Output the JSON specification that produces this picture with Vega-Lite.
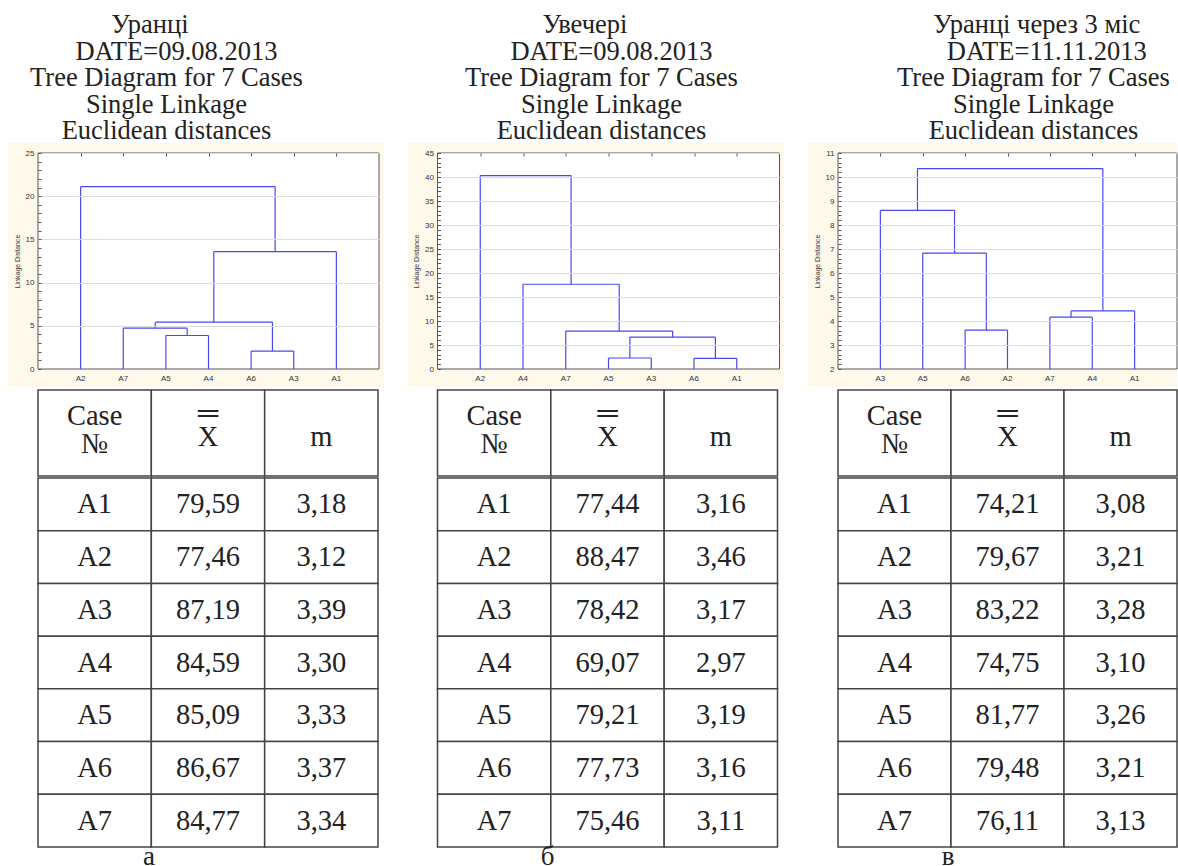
{
  "$schema": "https://vega.github.io/schema/vega-lite/v6.json",
  "padding": {"left": 7, "top": 12, "right": 0, "bottom": 0},
  "config": {
    "view": {"stroke": null},
    "font": "Liberation Serif",
    "locale": {"number": {"decimal": ",", "thousands": " ", "grouping": [3], "currency": ["", ""]}},
    "title": {"font": "Liberation Serif", "fontWeight": "normal", "color": "#222222"}
  },
  "datasets": {
    "merges": [
      {"panel": "a", "xl": 5, "xr": 6, "hl": 0, "hr": 0, "h": 2.08},
      {"panel": "a", "xl": 3, "xr": 4, "hl": 0, "hr": 0, "h": 3.88},
      {"panel": "a", "xl": 2, "xr": 3.5, "hl": 0, "hr": 3.88, "h": 4.73},
      {"panel": "a", "xl": 2.75, "xr": 5.5, "hl": 4.73, "hr": 2.08, "h": 5.42},
      {"panel": "a", "xl": 4.125, "xr": 7, "hl": 5.42, "hr": 0, "h": 13.58},
      {"panel": "a", "xl": 1, "xr": 5.5625, "hl": 0, "hr": 13.58, "h": 21.1},
      {"panel": "b", "xl": 4, "xr": 5, "hl": 0, "hr": 0, "h": 2.29},
      {"panel": "b", "xl": 6, "xr": 7, "hl": 0, "hr": 0, "h": 2.22},
      {"panel": "b", "xl": 4.5, "xr": 6.5, "hl": 2.29, "hr": 2.22, "h": 6.65},
      {"panel": "b", "xl": 3, "xr": 5.5, "hl": 0, "hr": 6.65, "h": 7.9},
      {"panel": "b", "xl": 2, "xr": 4.25, "hl": 0, "hr": 7.9, "h": 17.66},
      {"panel": "b", "xl": 1, "xr": 3.125, "hl": 0, "hr": 17.66, "h": 40.3},
      {"panel": "c", "xl": 3, "xr": 4, "hl": 0, "hr": 0, "h": 3.62},
      {"panel": "c", "xl": 5, "xr": 6, "hl": 0, "hr": 0, "h": 4.16},
      {"panel": "c", "xl": 5.5, "xr": 7, "hl": 4.16, "hr": 0, "h": 4.42},
      {"panel": "c", "xl": 2, "xr": 3.5, "hl": 0, "hr": 3.62, "h": 6.83},
      {"panel": "c", "xl": 1, "xr": 2.75, "hl": 0, "hr": 6.83, "h": 8.61},
      {"panel": "c", "xl": 1.875, "xr": 6.25, "hl": 8.61, "hr": 4.42, "h": 10.35}
    ],
    "leaves": [
      {"panel": "a", "leaf": "A2", "pos": 1}, {"panel": "a", "leaf": "A7", "pos": 2},
      {"panel": "a", "leaf": "A5", "pos": 3}, {"panel": "a", "leaf": "A4", "pos": 4},
      {"panel": "a", "leaf": "A6", "pos": 5}, {"panel": "a", "leaf": "A3", "pos": 6},
      {"panel": "a", "leaf": "A1", "pos": 7},
      {"panel": "b", "leaf": "A2", "pos": 1}, {"panel": "b", "leaf": "A4", "pos": 2},
      {"panel": "b", "leaf": "A7", "pos": 3}, {"panel": "b", "leaf": "A5", "pos": 4},
      {"panel": "b", "leaf": "A3", "pos": 5}, {"panel": "b", "leaf": "A6", "pos": 6},
      {"panel": "b", "leaf": "A1", "pos": 7},
      {"panel": "c", "leaf": "A3", "pos": 1}, {"panel": "c", "leaf": "A5", "pos": 2},
      {"panel": "c", "leaf": "A6", "pos": 3}, {"panel": "c", "leaf": "A2", "pos": 4},
      {"panel": "c", "leaf": "A7", "pos": 5}, {"panel": "c", "leaf": "A4", "pos": 6},
      {"panel": "c", "leaf": "A1", "pos": 7}
    ],
    "cases": [
      {"panel": "a", "case": "A1", "xbar": 79.59, "m": 3.18},
      {"panel": "a", "case": "A2", "xbar": 77.46, "m": 3.12},
      {"panel": "a", "case": "A3", "xbar": 87.19, "m": 3.39},
      {"panel": "a", "case": "A4", "xbar": 84.59, "m": 3.30},
      {"panel": "a", "case": "A5", "xbar": 85.09, "m": 3.33},
      {"panel": "a", "case": "A6", "xbar": 86.67, "m": 3.37},
      {"panel": "a", "case": "A7", "xbar": 84.77, "m": 3.34},
      {"panel": "b", "case": "A1", "xbar": 77.44, "m": 3.16},
      {"panel": "b", "case": "A2", "xbar": 88.47, "m": 3.46},
      {"panel": "b", "case": "A3", "xbar": 78.42, "m": 3.17},
      {"panel": "b", "case": "A4", "xbar": 69.07, "m": 2.97},
      {"panel": "b", "case": "A5", "xbar": 79.21, "m": 3.19},
      {"panel": "b", "case": "A6", "xbar": 77.73, "m": 3.16},
      {"panel": "b", "case": "A7", "xbar": 75.46, "m": 3.11},
      {"panel": "c", "case": "A1", "xbar": 74.21, "m": 3.08},
      {"panel": "c", "case": "A2", "xbar": 79.67, "m": 3.21},
      {"panel": "c", "case": "A3", "xbar": 83.22, "m": 3.28},
      {"panel": "c", "case": "A4", "xbar": 74.75, "m": 3.10},
      {"panel": "c", "case": "A5", "xbar": 81.77, "m": 3.26},
      {"panel": "c", "case": "A6", "xbar": 79.48, "m": 3.21},
      {"panel": "c", "case": "A7", "xbar": 76.11, "m": 3.13}
    ],
    "header": [
      {"col": "case", "label": ["Case", "№"]},
      {"col": "xbar", "label": "X", "accent": "═"},
      {"col": "m", "label": "m"}
    ]
  },
  "spacing": 22.5,
  "hconcat": [
    {
      "spacing": 2,
      "vconcat": [
        {
          "width": 341,
          "height": 216,
          "title": {
            "text": ["Уранці\u00a0\u00a0\u00a0\u00a0\u00a0\u200b", "\u200b\u00a0\u00a0\u00a0DATE=09.08.2013", "Tree Diagram for 7 Cases", "Single Linkage", "Euclidean distances"],
            "frame": "group", "anchor": "middle", "dx": -42, "offset": -29,
            "fontSize": 26.5, "lineHeight": 26.6, "baseline": "bottom"
          },
          "layer": [
            {
              "data": {"values": [{}]},
              "mark": {"type": "rect", "fill": "#fff9ec"},
              "encoding": {
                "x": {"datum": -0.704, "type": "quantitative", "scale": {"domain": [0, 8], "nice": false, "zero": false},
                      "axis": {"orient": "top", "values": [1, 2, 3, 4, 5, 6, 7], "tickCount": 1000, "labels": false, "domain": false, "grid": false, "title": null,
                               "tickSize": -3, "tickColor": "#555555", "zindex": 1}},
                "x2": {"datum": 8.117},
                "y": {"datum": -2.083, "type": "quantitative", "scale": {"domain": [0, 25], "nice": false, "zero": false},
                      "axis": {
                        "title": "Linkage Distance", "zindex": 1, "tickCount": 1000, "format": "d",
                        "values": [0,1,2,3,4,5,6,7,8,9,10,11,12,13,14,15,16,17,18,19,20,21,22,23,24,25],
                        "labelExpr": "datum.value % 5 === 0 ? datum.label : ''", "labelOverlap": false,
                        "grid": true, "gridColor": "#dddddd",
                        "gridOpacity": {"condition": {"test": "datum.value % 5 === 0 && datum.value > 0", "value": 1}, "value": 0},
                        "domain": false, "tickSize": -3, "tickColor": "#555555",
                        "labelFont": "Liberation Sans", "labelFontSize": 8, "labelColor": "#333333", "labelPadding": 7,
                        "titleFont": "Liberation Sans", "titleFontSize": 7, "titleFontWeight": "normal", "titleColor": "#333333", "titlePadding": 5
                      }},
                "y2": {"datum": 26.157}
              }
            },
            {
              "data": {"values": [{}]},
              "mark": {"type": "rect", "fill": "#ffffff", "stroke": "#555555", "strokeWidth": 1},
              "encoding": {
                "x": {"datum": 0, "type": "quantitative"},
                "x2": {"datum": 8},
                "y": {"datum": 0, "type": "quantitative"},
                "y2": {"datum": 25}
              }
            },
            {
              "data": {"name": "merges"},
              "transform": [{"filter": "datum.panel === 'a'"}],
              "layer": [
                {
                  "mark": {"type": "rule", "color": "#4848f0", "strokeWidth": 1.2, "clip": true},
                  "encoding": {"x": {"field": "xl", "type": "quantitative"}, "x2": {"field": "xr"}, "y": {"field": "h", "type": "quantitative"}}
                },
                {
                  "mark": {"type": "rule", "color": "#4848f0", "strokeWidth": 1.2, "clip": true},
                  "encoding": {"x": {"field": "xl", "type": "quantitative"}, "y": {"field": "hl", "type": "quantitative"}, "y2": {"field": "h"}}
                },
                {
                  "mark": {"type": "rule", "color": "#4848f0", "strokeWidth": 1.2, "clip": true},
                  "encoding": {"x": {"field": "xr", "type": "quantitative"}, "y": {"field": "hr", "type": "quantitative"}, "y2": {"field": "h"}}
                }
              ]
            },
            {
              "data": {"name": "leaves"},
              "transform": [{"filter": "datum.panel === 'a'"}],
              "mark": {"type": "text", "font": "Liberation Sans", "fontSize": 8, "color": "#333333", "baseline": "top", "dy": 6},
              "encoding": {
                "x": {"field": "pos", "type": "quantitative"},
                "y": {"datum": 0, "type": "quantitative"},
                "text": {"field": "leaf"}
              }
            }
          ]
        },
        {
          "spacing": 0,
          "vconcat": [
            {
              "width": 340,
              "height": 86,
              "data": {"name": "header"},
              "encoding": {
                "x": {"field": "col", "type": "nominal", "axis": null,
                      "scale": {"domain": ["case", "xbar", "m"], "paddingInner": 0, "paddingOuter": 0}}
              },
              "layer": [
                {"mark": {"type": "rect", "fill": "#ffffff", "stroke": "#444444", "strokeWidth": 1.5}},
                {"transform": [{"filter": "datum.col === 'case'"}],
                 "mark": {"type": "text", "fontSize": 28.5, "color": "#222222", "lineHeight": 28, "baseline": "middle", "dy": -17},
                 "encoding": {"text": {"field": "label"}}},
                {"transform": [{"filter": "datum.col !== 'case'"}],
                 "mark": {"type": "text", "fontSize": 28.5, "color": "#222222", "baseline": "middle", "dy": 3.5},
                 "encoding": {"text": {"field": "label"}}},
                {"transform": [{"filter": "isValid(datum.accent)"}],
                 "mark": {"type": "text", "fontSize": 28.5, "color": "#222222", "baseline": "middle", "dy": -20.5},
                 "encoding": {"text": {"field": "accent"}}}
              ]
            },
            {
              "width": 340,
              "height": 369,
              "data": {"name": "cases"},
              "transform": [{"filter": "datum.panel === 'a'"}],
              "title": {"text": "а", "orient": "bottom", "anchor": "start", "align": "center", "frame": "group", "dx": 111, "offset": -4, "fontSize": 27},
              "encoding": {
                "y": {"field": "case", "type": "nominal", "axis": null, "scale": {"paddingInner": 0, "paddingOuter": 0}}
              },
              "layer": [
                {
                  "transform": [{"fold": ["case", "xbar", "m"], "as": ["col", "val"]}],
                  "mark": {"type": "rect", "fill": "#ffffff", "stroke": "#444444", "strokeWidth": 1.5},
                  "encoding": {
                    "x": {"field": "col", "type": "nominal", "axis": null,
                          "scale": {"domain": ["case", "xbar", "m"], "paddingInner": 0, "paddingOuter": 0}}
                  }
                },
                {
                  "mark": {"type": "text", "fontSize": 28.5, "color": "#222222", "baseline": "middle"},
                  "encoding": {"x": {"datum": "case", "type": "nominal"}, "text": {"field": "case"}}
                },
                {
                  "mark": {"type": "text", "fontSize": 28.5, "color": "#222222", "baseline": "middle"},
                  "encoding": {"x": {"datum": "xbar", "type": "nominal"}, "text": {"field": "xbar", "type": "quantitative", "format": ".2f"}}
                },
                {
                  "mark": {"type": "text", "fontSize": 28.5, "color": "#222222", "baseline": "middle"},
                  "encoding": {"x": {"datum": "m", "type": "nominal"}, "text": {"field": "m", "type": "quantitative", "format": ".2f"}}
                }
              ]
            }
          ]
        }
      ]
    },
    {
      "spacing": 2,
      "vconcat": [
        {
          "width": 342,
          "height": 216,
          "title": {
            "text": ["Увечері\u00a0\u00a0\u00a0\u00a0\u00a0\u200b", "\u200b\u00a0\u00a0\u00a0DATE=09.08.2013", "Tree Diagram for 7 Cases", "Single Linkage", "Euclidean distances"],
            "frame": "group", "anchor": "middle", "dx": -7, "offset": -29,
            "fontSize": 26.5, "lineHeight": 26.6, "baseline": "bottom"
          },
          "layer": [
            {
              "data": {"values": [{}]},
              "mark": {"type": "rect", "fill": "#fff9ec"},
              "encoding": {
                "x": {"datum": -0.702, "type": "quantitative", "scale": {"domain": [0, 8], "nice": false, "zero": false},
                      "axis": {"orient": "top", "values": [1, 2, 3, 4, 5, 6, 7], "tickCount": 1000, "labels": false, "domain": false, "grid": false, "title": null,
                               "tickSize": -3, "tickColor": "#555555", "zindex": 1}},
                "x2": {"datum": 8.094},
                "y": {"datum": -3.75, "type": "quantitative", "scale": {"domain": [0, 45], "nice": false, "zero": false},
                      "axis": {
                        "title": "Linkage Distance", "zindex": 1, "tickCount": 1000, "format": "d",
                        "values": [0,1,2,3,4,5,6,7,8,9,10,11,12,13,14,15,16,17,18,19,20,21,22,23,24,25,26,27,28,29,30,31,32,33,34,35,36,37,38,39,40,41,42,43,44,45],
                        "labelExpr": "datum.value % 5 === 0 ? datum.label : ''", "labelOverlap": false,
                        "grid": true, "gridColor": "#dddddd",
                        "gridOpacity": {"condition": {"test": "datum.value % 5 === 0 && datum.value > 0", "value": 1}, "value": 0},
                        "domain": false, "tickSize": -3, "tickColor": "#555555",
                        "labelFont": "Liberation Sans", "labelFontSize": 8, "labelColor": "#333333", "labelPadding": 7,
                        "titleFont": "Liberation Sans", "titleFontSize": 7, "titleFontWeight": "normal", "titleColor": "#333333", "titlePadding": 5
                      }},
                "y2": {"datum": 47.083}
              }
            },
            {
              "data": {"values": [{}]},
              "mark": {"type": "rect", "fill": "#ffffff", "stroke": "#555555", "strokeWidth": 1},
              "encoding": {
                "x": {"datum": 0, "type": "quantitative"},
                "x2": {"datum": 8},
                "y": {"datum": 0, "type": "quantitative"},
                "y2": {"datum": 45}
              }
            },
            {
              "data": {"name": "merges"},
              "transform": [{"filter": "datum.panel === 'b'"}],
              "layer": [
                {
                  "mark": {"type": "rule", "color": "#4848f0", "strokeWidth": 1.2, "clip": true},
                  "encoding": {"x": {"field": "xl", "type": "quantitative"}, "x2": {"field": "xr"}, "y": {"field": "h", "type": "quantitative"}}
                },
                {
                  "mark": {"type": "rule", "color": "#4848f0", "strokeWidth": 1.2, "clip": true},
                  "encoding": {"x": {"field": "xl", "type": "quantitative"}, "y": {"field": "hl", "type": "quantitative"}, "y2": {"field": "h"}}
                },
                {
                  "mark": {"type": "rule", "color": "#4848f0", "strokeWidth": 1.2, "clip": true},
                  "encoding": {"x": {"field": "xr", "type": "quantitative"}, "y": {"field": "hr", "type": "quantitative"}, "y2": {"field": "h"}}
                }
              ]
            },
            {
              "data": {"name": "leaves"},
              "transform": [{"filter": "datum.panel === 'b'"}],
              "mark": {"type": "text", "font": "Liberation Sans", "fontSize": 8, "color": "#333333", "baseline": "top", "dy": 6},
              "encoding": {
                "x": {"field": "pos", "type": "quantitative"},
                "y": {"datum": 0, "type": "quantitative"},
                "text": {"field": "leaf"}
              }
            }
          ]
        },
        {
          "spacing": 0,
          "vconcat": [
            {
              "width": 340,
              "height": 86,
              "data": {"name": "header"},
              "encoding": {
                "x": {"field": "col", "type": "nominal", "axis": null,
                      "scale": {"domain": ["case", "xbar", "m"], "paddingInner": 0, "paddingOuter": 0}}
              },
              "layer": [
                {"mark": {"type": "rect", "fill": "#ffffff", "stroke": "#444444", "strokeWidth": 1.5}},
                {"transform": [{"filter": "datum.col === 'case'"}],
                 "mark": {"type": "text", "fontSize": 28.5, "color": "#222222", "lineHeight": 28, "baseline": "middle", "dy": -17},
                 "encoding": {"text": {"field": "label"}}},
                {"transform": [{"filter": "datum.col !== 'case'"}],
                 "mark": {"type": "text", "fontSize": 28.5, "color": "#222222", "baseline": "middle", "dy": 3.5},
                 "encoding": {"text": {"field": "label"}}},
                {"transform": [{"filter": "isValid(datum.accent)"}],
                 "mark": {"type": "text", "fontSize": 28.5, "color": "#222222", "baseline": "middle", "dy": -20.5},
                 "encoding": {"text": {"field": "accent"}}}
              ]
            },
            {
              "width": 340,
              "height": 369,
              "data": {"name": "cases"},
              "transform": [{"filter": "datum.panel === 'b'"}],
              "title": {"text": "б", "orient": "bottom", "anchor": "start", "align": "center", "frame": "group", "dx": 110, "offset": -4, "fontSize": 27},
              "encoding": {
                "y": {"field": "case", "type": "nominal", "axis": null, "scale": {"paddingInner": 0, "paddingOuter": 0}}
              },
              "layer": [
                {
                  "transform": [{"fold": ["case", "xbar", "m"], "as": ["col", "val"]}],
                  "mark": {"type": "rect", "fill": "#ffffff", "stroke": "#444444", "strokeWidth": 1.5},
                  "encoding": {
                    "x": {"field": "col", "type": "nominal", "axis": null,
                          "scale": {"domain": ["case", "xbar", "m"], "paddingInner": 0, "paddingOuter": 0}}
                  }
                },
                {
                  "mark": {"type": "text", "fontSize": 28.5, "color": "#222222", "baseline": "middle"},
                  "encoding": {"x": {"datum": "case", "type": "nominal"}, "text": {"field": "case"}}
                },
                {
                  "mark": {"type": "text", "fontSize": 28.5, "color": "#222222", "baseline": "middle"},
                  "encoding": {"x": {"datum": "xbar", "type": "nominal"}, "text": {"field": "xbar", "type": "quantitative", "format": ".2f"}}
                },
                {
                  "mark": {"type": "text", "fontSize": 28.5, "color": "#222222", "baseline": "middle"},
                  "encoding": {"x": {"datum": "m", "type": "nominal"}, "text": {"field": "m", "type": "quantitative", "format": ".2f"}}
                }
              ]
            }
          ]
        }
      ]
    },
    {
      "spacing": 2,
      "vconcat": [
        {
          "width": 339,
          "height": 216,
          "title": {
            "text": ["\u200b\u00a0Уранці через 3 міс", "\u200b\u00a0\u00a0\u00a0\u00a0DATE=11.11.2013", "Tree Diagram for 7 Cases", "Single Linkage", "Euclidean distances"],
            "frame": "group", "anchor": "middle", "dx": 26, "offset": -29,
            "fontSize": 26.5, "lineHeight": 26.6, "baseline": "bottom"
          },
          "layer": [
            {
              "data": {"values": [{}]},
              "mark": {"type": "rect", "fill": "#fff9ec"},
              "encoding": {
                "x": {"datum": -0.708, "type": "quantitative", "scale": {"domain": [0, 8], "nice": false, "zero": false},
                      "axis": {"orient": "top", "values": [1, 2, 3, 4, 5, 6, 7], "tickCount": 1000, "labels": false, "domain": false, "grid": false, "title": null,
                               "tickSize": -3, "tickColor": "#555555", "zindex": 1}},
                "x2": {"datum": 8},
                "y": {"datum": 1.25, "type": "quantitative", "scale": {"domain": [2, 11], "nice": false, "zero": false},
                      "axis": {
                        "title": "Linkage Distance", "zindex": 1, "tickCount": 1000, "tickMinStep": 0.1, "format": ".0f",
                        "values": [2,2.2,2.4,2.6,2.8,3,3.2,3.4,3.6,3.8,4,4.2,4.4,4.6,4.8,5,5.2,5.4,5.6,5.8,6,6.2,6.4,6.6,6.8,7,7.2,7.4,7.6,7.8,8,8.2,8.4,8.6,8.8,9,9.2,9.4,9.6,9.8,10,10.2,10.4,10.6,10.8,11],
                        "labelExpr": "abs(datum.value - round(datum.value)) < 0.001 ? datum.label : ''", "labelOverlap": false,
                        "grid": true, "gridColor": "#dddddd",
                        "gridOpacity": {"condition": {"test": "abs(datum.value - round(datum.value)) < 0.001 && datum.value > 2", "value": 1}, "value": 0},
                        "domain": false, "tickSize": -3, "tickColor": "#555555",
                        "labelFont": "Liberation Sans", "labelFontSize": 8, "labelColor": "#333333", "labelPadding": 7,
                        "titleFont": "Liberation Sans", "titleFontSize": 7, "titleFontWeight": "normal", "titleColor": "#333333", "titlePadding": 5
                      }},
                "y2": {"datum": 11.417}
              }
            },
            {
              "data": {"values": [{}]},
              "mark": {"type": "rect", "fill": "#ffffff", "stroke": "#555555", "strokeWidth": 1},
              "encoding": {
                "x": {"datum": 0, "type": "quantitative"},
                "x2": {"datum": 8},
                "y": {"datum": 2, "type": "quantitative"},
                "y2": {"datum": 11}
              }
            },
            {
              "data": {"name": "merges"},
              "transform": [{"filter": "datum.panel === 'c'"}],
              "layer": [
                {
                  "mark": {"type": "rule", "color": "#4848f0", "strokeWidth": 1.2, "clip": true},
                  "encoding": {"x": {"field": "xl", "type": "quantitative"}, "x2": {"field": "xr"}, "y": {"field": "h", "type": "quantitative"}}
                },
                {
                  "mark": {"type": "rule", "color": "#4848f0", "strokeWidth": 1.2, "clip": true},
                  "encoding": {"x": {"field": "xl", "type": "quantitative"}, "y": {"field": "hl", "type": "quantitative"}, "y2": {"field": "h"}}
                },
                {
                  "mark": {"type": "rule", "color": "#4848f0", "strokeWidth": 1.2, "clip": true},
                  "encoding": {"x": {"field": "xr", "type": "quantitative"}, "y": {"field": "hr", "type": "quantitative"}, "y2": {"field": "h"}}
                }
              ]
            },
            {
              "data": {"name": "leaves"},
              "transform": [{"filter": "datum.panel === 'c'"}],
              "mark": {"type": "text", "font": "Liberation Sans", "fontSize": 8, "color": "#333333", "baseline": "top", "dy": 6},
              "encoding": {
                "x": {"field": "pos", "type": "quantitative"},
                "y": {"datum": 2, "type": "quantitative"},
                "text": {"field": "leaf"}
              }
            }
          ]
        },
        {
          "spacing": 0,
          "vconcat": [
            {
              "width": 339,
              "height": 86,
              "data": {"name": "header"},
              "encoding": {
                "x": {"field": "col", "type": "nominal", "axis": null,
                      "scale": {"domain": ["case", "xbar", "m"], "paddingInner": 0, "paddingOuter": 0}}
              },
              "layer": [
                {"mark": {"type": "rect", "fill": "#ffffff", "stroke": "#444444", "strokeWidth": 1.5}},
                {"transform": [{"filter": "datum.col === 'case'"}],
                 "mark": {"type": "text", "fontSize": 28.5, "color": "#222222", "lineHeight": 28, "baseline": "middle", "dy": -17},
                 "encoding": {"text": {"field": "label"}}},
                {"transform": [{"filter": "datum.col !== 'case'"}],
                 "mark": {"type": "text", "fontSize": 28.5, "color": "#222222", "baseline": "middle", "dy": 3.5},
                 "encoding": {"text": {"field": "label"}}},
                {"transform": [{"filter": "isValid(datum.accent)"}],
                 "mark": {"type": "text", "fontSize": 28.5, "color": "#222222", "baseline": "middle", "dy": -20.5},
                 "encoding": {"text": {"field": "accent"}}}
              ]
            },
            {
              "width": 339,
              "height": 369,
              "data": {"name": "cases"},
              "transform": [{"filter": "datum.panel === 'c'"}],
              "title": {"text": "в", "orient": "bottom", "anchor": "start", "align": "center", "frame": "group", "dx": 110, "offset": -4, "fontSize": 27},
              "encoding": {
                "y": {"field": "case", "type": "nominal", "axis": null, "scale": {"paddingInner": 0, "paddingOuter": 0}}
              },
              "layer": [
                {
                  "transform": [{"fold": ["case", "xbar", "m"], "as": ["col", "val"]}],
                  "mark": {"type": "rect", "fill": "#ffffff", "stroke": "#444444", "strokeWidth": 1.5},
                  "encoding": {
                    "x": {"field": "col", "type": "nominal", "axis": null,
                          "scale": {"domain": ["case", "xbar", "m"], "paddingInner": 0, "paddingOuter": 0}}
                  }
                },
                {
                  "mark": {"type": "text", "fontSize": 28.5, "color": "#222222", "baseline": "middle"},
                  "encoding": {"x": {"datum": "case", "type": "nominal"}, "text": {"field": "case"}}
                },
                {
                  "mark": {"type": "text", "fontSize": 28.5, "color": "#222222", "baseline": "middle"},
                  "encoding": {"x": {"datum": "xbar", "type": "nominal"}, "text": {"field": "xbar", "type": "quantitative", "format": ".2f"}}
                },
                {
                  "mark": {"type": "text", "fontSize": 28.5, "color": "#222222", "baseline": "middle"},
                  "encoding": {"x": {"datum": "m", "type": "nominal"}, "text": {"field": "m", "type": "quantitative", "format": ".2f"}}
                }
              ]
            }
          ]
        }
      ]
    }
  ]
}
